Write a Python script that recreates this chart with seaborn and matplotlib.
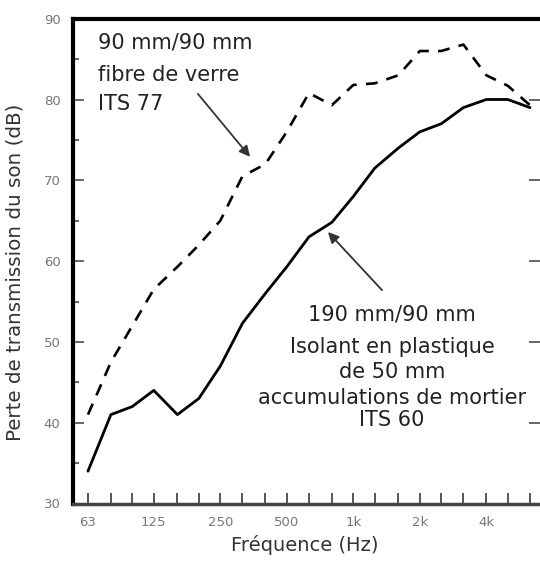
import matplotlib
matplotlib.use("Agg")
import matplotlib.pyplot as plt
import seaborn as sns
import pandas as pd
from matplotlib.ticker import FixedLocator, FixedFormatter, MultipleLocator

# ---- data ----
freqs = [63, 80, 100, 125, 160, 200, 250, 315, 400, 500, 630, 800,
         1000, 1250, 1600, 2000, 2500, 3150, 4000, 5000, 6300]
tl_fibre = [41, 47.5, 52, 56.5, 59.3, 62, 65, 70.5, 72, 76, 80.8, 79.3,
            81.8, 82, 83, 86, 86, 86.8, 83, 81.7, 79.3]
tl_plastique = [34, 41, 42, 44, 41, 43, 47, 52.3, 56, 59.3, 63, 64.8,
                68, 71.5, 74, 76, 77, 79, 80, 80, 79]
xtick_labels = ["63", "", "", "125", "", "", "250", "", "", "500", "", "",
                "1k", "", "", "2k", "", "", "4k", "", ""]
yticks = [30, 40, 50, 60, 70, 80, 90]
label_fibre = ["90 mm/90 mm", "fibre de verre", "ITS 77"]
label_plastique = ["190 mm/90 mm", "Isolant en plastique", "de 50 mm",
                   "accumulations de mortier", "ITS 60"]

df = pd.DataFrame({"f": freqs, "fibre": tl_fibre, "plast": tl_plastique})

sns.set_theme(style="white")
plt.rcParams["font.family"] = ["DejaVu Sans"]

W, H = 540, 561
fig = plt.figure(figsize=(W / 100, H / 100), dpi=100)
ax = fig.add_axes([73 / W, 1 - 503.5 / H, (W - 73) / W, (503.5 - 18.7) / H])

sns.lineplot(data=df, x="f", y="fibre", ax=ax, color="black", lw=1.9,
             linestyle=(0, (4.5, 3.5)))
sns.lineplot(data=df, x="f", y="plast", ax=ax, color="black", lw=2.0)

ax.set_xscale("log")
ax.set_xlim(53.9, 6995)
ax.set_ylim(30, 90)

ax.xaxis.set_major_locator(FixedLocator(freqs))
ax.xaxis.set_major_formatter(FixedFormatter(xtick_labels))
ax.xaxis.set_minor_locator(FixedLocator([]))
ax.yaxis.set_major_locator(FixedLocator(yticks))
ax.yaxis.set_minor_locator(MultipleLocator(5))

ax.tick_params(axis="x", which="major", direction="in", length=8, width=1.4,
               color="#555", labelsize=9.5, labelcolor="#777", pad=9, bottom=True)
ax.tick_params(axis="y", which="major", direction="in", length=8, width=1.4,
               color="#666", labelsize=9.5, labelcolor="#777", pad=9,
               left=True, right=True)
ax.tick_params(axis="y", which="minor", direction="in", length=4, width=1.4,
               color="#666", left=True, right=False)

ax.spines["right"].set_visible(False)
ax.spines["top"].set_linewidth(3)
ax.spines["top"].set_color("black")
ax.spines["left"].set_linewidth(3)
ax.spines["left"].set_color("black")
ax.spines["bottom"].set_linewidth(2.5)
ax.spines["bottom"].set_color("#444")

ax.set_xlabel("Fréquence (Hz)", fontsize=14, color="#333")
ax.set_ylabel("Perte de transmission du son (dB)", fontsize=14.3, color="#333")
ax.yaxis.set_label_coords(-(73 - 25) / (W - 73), (503.5 - 272) / (503.5 - 18.7))
ax.xaxis.set_label_coords((305 - 73) / (W - 73), -(535 - 503.5) / (503.5 - 18.7))


def px(x, y):
    return (x / W, 1 - y / H)


for txt, y in zip(label_fibre, [42.7, 75, 104]):
    fig.text(*px(98, y), txt, ha="left", va="center", fontsize=15, color="#222")
for txt, y in zip(label_plastique, [315, 347, 372, 398, 420]):
    fig.text(*px(392, y), txt, ha="center", va="center", fontsize=15, color="#222")

ax.annotate("", xy=(341, 72.9), xytext=(198, 80.7),
            arrowprops=dict(arrowstyle="-|>", color="#333", lw=1.3,
                            mutation_scale=16, shrinkA=0, shrinkB=0))
ax.annotate("", xy=(768, 63.6), xytext=(1349, 56.4),
            arrowprops=dict(arrowstyle="-|>", color="#333", lw=1.3,
                            mutation_scale=16, shrinkA=0, shrinkB=0))

fig.savefig("out.png", dpi=100)
